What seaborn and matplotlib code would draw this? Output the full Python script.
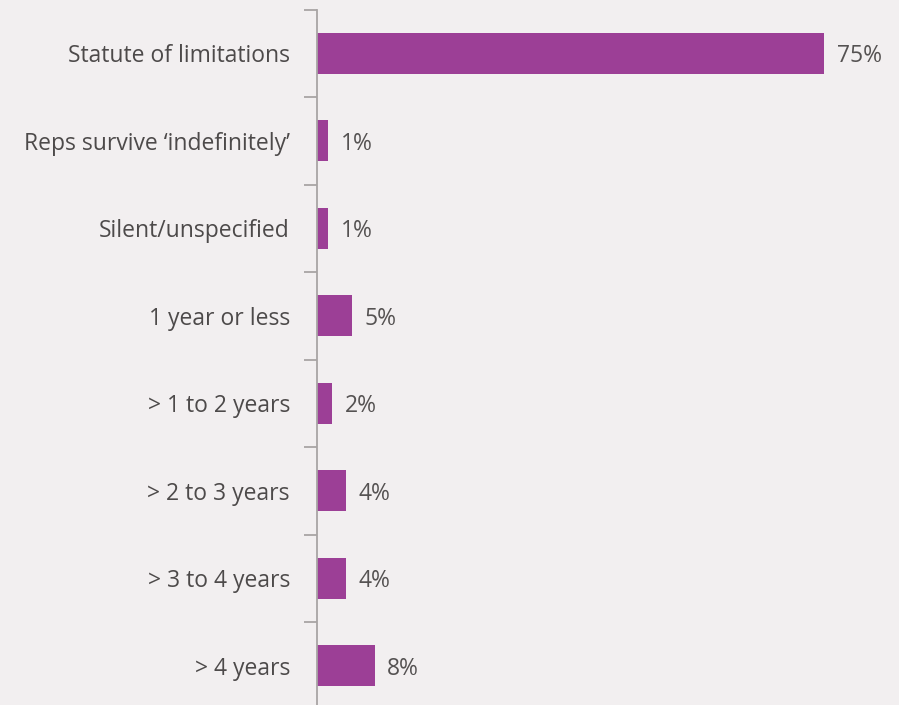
import numpy as np
import pandas as pd
import seaborn as sns
import matplotlib
matplotlib.use("Agg")
import matplotlib.pyplot as plt
from matplotlib.ticker import FixedLocator

categories = [
    "Statute of limitations",
    "Reps survive \u2018indefinitely\u2019",
    "Silent/unspecified",
    "1 year or less",
    "> 1 to 2 years",
    "> 2 to 3 years",
    "> 3 to 4 years",
    "> 4 years",
]
# bar lengths, labels as printed
bar_values = [75, 1.67, 1.67, 5.2, 2.2, 4.33, 4.33, 8.5]
value_labels = ["75%", "1%", "1%", "5%", "2%", "4%", "4%", "8%"]

bg = "#f2eff0"
purple = "#9c3f96"
text_col = "#4d4a4a"
value_col = "#555252"
axis_col = "#a8a4a4"

sns.set_style("white")
plt.rcParams["font.family"] = ["Open Sans", "DejaVu Sans"]

df = pd.DataFrame({"category": categories, "value": bar_values})

fig = plt.figure(figsize=(8.99, 7.05), dpi=100, facecolor=bg)
ax = fig.add_axes([317 / 899, -4.5 / 705, 575 / 899, 700 / 705])
ax.set_facecolor(bg)

sns.barplot(data=df, x="value", y="category", orient="h", color=purple,
            saturation=1, width=0.465, linewidth=0, ax=ax)

ax.set_xlim(0, 85)
ax.set_ylim(7.5, -0.5)
ax.set_xlabel("")
ax.set_ylabel("")
ax.set_xticks([])

for side in ["top", "right", "bottom"]:
    ax.spines[side].set_visible(False)
ax.spines["left"].set_color(axis_col)
ax.spines["left"].set_linewidth(1.3)

ax.tick_params(axis="y", which="major", length=0, pad=19.5,
               labelsize=16.5, labelcolor=text_col)
ax.yaxis.set_minor_locator(FixedLocator(np.arange(-0.5, 7.5, 1.0)))
ax.tick_params(axis="y", which="minor", length=9.4, width=1.3,
               color=axis_col, left=True)

texts = ax.bar_label(ax.containers[0], labels=value_labels, padding=9,
                     fontsize=16.5, color=value_col)
for t in texts:
    t.set_va("center_baseline")

fig.savefig("out.png", dpi=100, facecolor=bg)
